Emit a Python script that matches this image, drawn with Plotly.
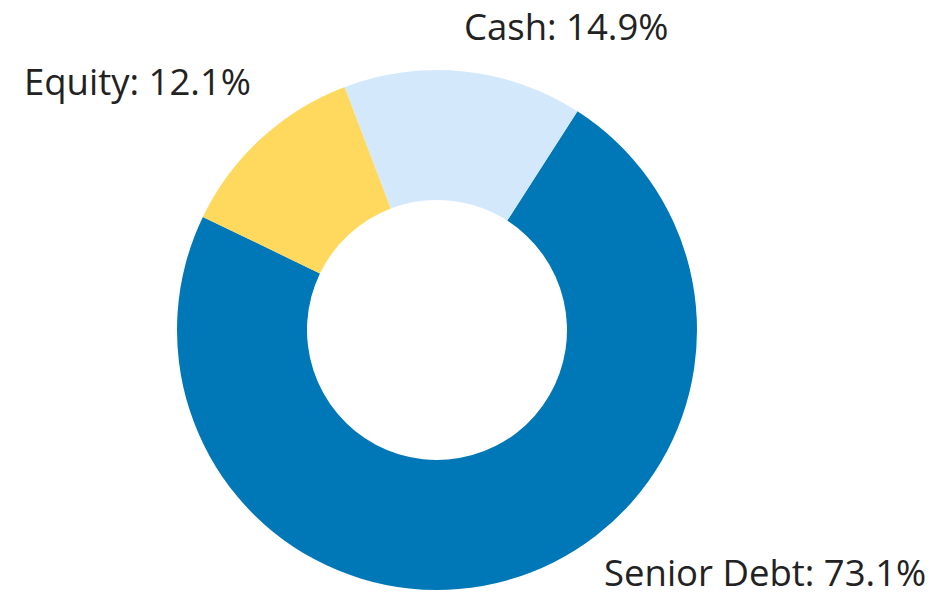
import plotly.graph_objects as go

labels = ["Senior Debt", "Equity", "Cash"]
values = [73.08, 12.06, 14.86]
colors = ["#0077b6", "#ffd95e", "#d4e8fc"]

# label placement (paper coordinates) - layout only
label_pos = {"Senior Debt": (0.8100, 0.0626), "Equity": (0.1387, 0.8794), "Cash": (0.5980, 0.9700)}

total = sum(values)

fig = go.Figure(go.Pie(
    labels=labels,
    values=values,
    hole=0.5,
    sort=False,
    direction="clockwise",
    rotation=32.7,
    automargin=False,
    marker=dict(colors=colors, line=dict(width=0)),
    textinfo="none",
    showlegend=False,
    domain=dict(x=[0.18094, 0.73769], y=[0.03322, 0.89701]),
))

for lab, val in zip(labels, values):
    x, y = label_pos[lab]
    fig.add_annotation(
        x=x, y=y, xref="paper", yref="paper",
        xanchor="center", yanchor="middle",
        text=f"{lab}: {val / total * 100:.1f}%",
        showarrow=False,
        borderpad=0, borderwidth=0,
        font=dict(family="Open Sans", size=36.5, color="#222222"),
    )

fig.update_layout(
    width=934, height=602,
    margin=dict(l=0, r=0, t=0, b=0),
    paper_bgcolor="white",
)
fig.write_html("out.html")
